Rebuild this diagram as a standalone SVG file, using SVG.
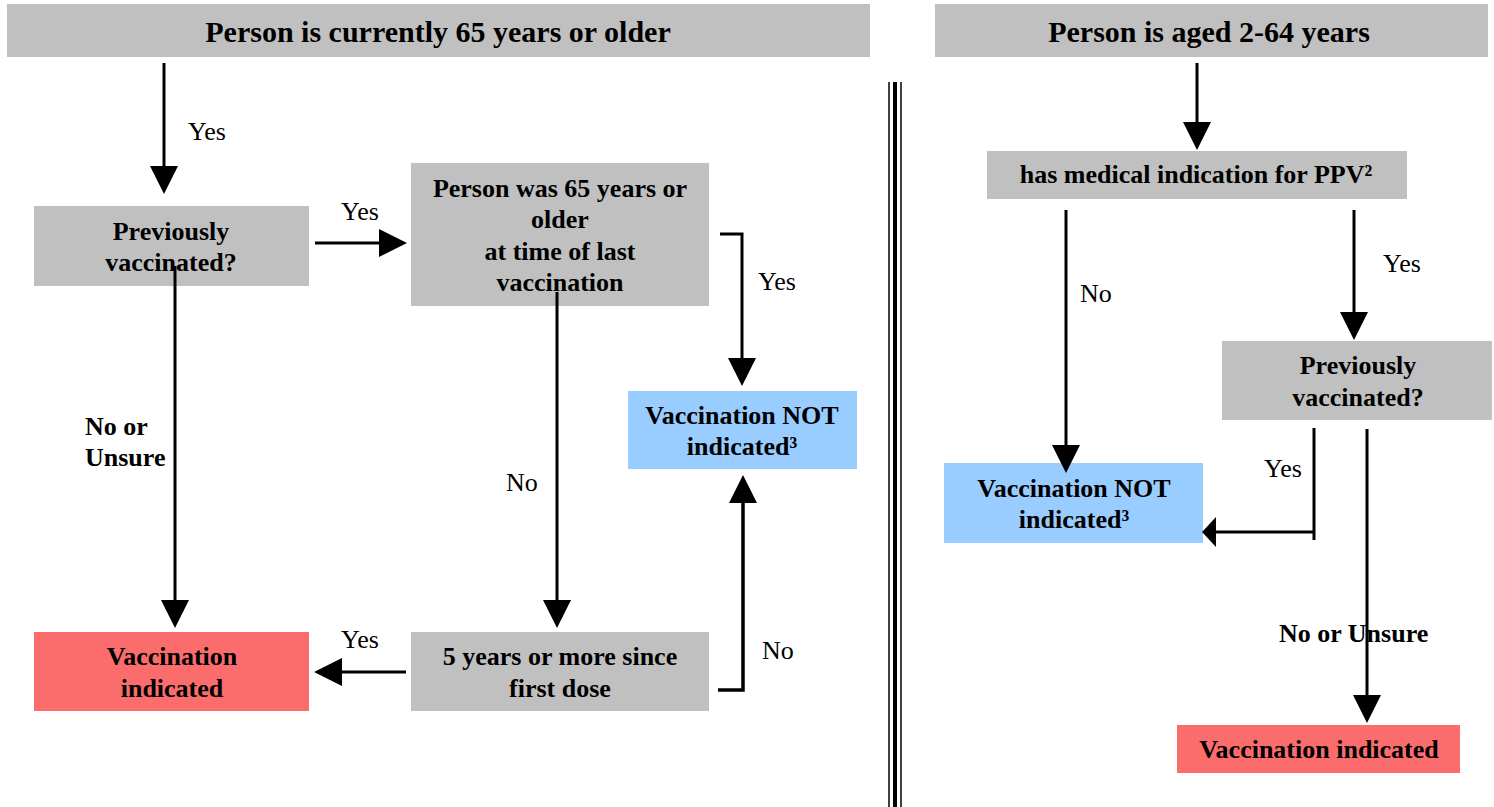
<svg xmlns="http://www.w3.org/2000/svg" width="1494" height="807" viewBox="0 0 1494 807">
<style>
text{font-family:"Liberation Serif","Times New Roman",serif;fill:#000}
.hd{font-size:30px;font-weight:bold;text-anchor:middle}
.bx{font-size:26px;font-weight:bold;text-anchor:middle}
.lb{font-size:26px}
.lbb{font-size:26px;font-weight:bold}
.gray{fill:#c0c0c0}
.blue{fill:#99ccff}
.red{fill:#fb6c6c}
.ln{stroke:#000;stroke-width:3;fill:none}
</style>
<defs>
<marker id="arr" markerUnits="userSpaceOnUse" markerWidth="28" markerHeight="28" viewBox="0 0 28 28" refX="24" refY="14" orient="auto">
<path d="M0,0 L28,14 L0,28 z" fill="#000"/>
</marker>
</defs>

<g id="header-left"><rect class="gray" x="7" y="4" width="863" height="53"/><text class="hd" x="438" y="42">Person is currently 65 years or older</text></g>
<g id="header-right"><rect class="gray" x="935" y="4" width="553" height="53"/><text class="hd" x="1209" y="42">Person is aged 2-64 years</text></g>

<g id="divider">
<line x1="889" y1="82" x2="889" y2="807" stroke="#000" stroke-width="1.5"/>
<line x1="895" y1="82" x2="895" y2="807" stroke="#000" stroke-width="4"/>
<line x1="901" y1="82" x2="901" y2="807" stroke="#000" stroke-width="1.5"/>
</g>

<g id="prev-left"><rect class="gray" x="34" y="206" width="275" height="80"/><text class="bx" x="171" y="240">Previously</text><text class="bx" x="171" y="271">vaccinated?</text></g>
<g id="was65"><rect class="gray" x="411" y="163" width="298" height="143"/><text class="bx" x="560" y="197">Person was 65 years or</text><text class="bx" x="560" y="228">older</text><text class="bx" x="560" y="260">at time of last</text><text class="bx" x="560" y="291">vaccination</text></g>
<g id="notind-left"><rect class="blue" x="628" y="391" width="229" height="78"/><text class="bx" x="742" y="424">Vaccination NOT</text><text class="bx" x="742" y="455">indicated³</text></g>
<g id="ind-left"><rect class="red" x="34" y="632" width="275" height="79"/><text class="bx" x="172" y="665">Vaccination</text><text class="bx" x="172" y="697">indicated</text></g>
<g id="fiveyears"><rect class="gray" x="411" y="632" width="298" height="79"/><text class="bx" x="560" y="665">5 years or more since</text><text class="bx" x="560" y="697">first dose</text></g>

<g id="ppv"><rect class="gray" x="987" y="151" width="420" height="48"/><text class="bx" x="1196" y="183">has medical indication for PPV²</text></g>
<g id="prev-right"><rect class="gray" x="1222" y="341" width="270" height="79"/><text class="bx" x="1358" y="374">Previously</text><text class="bx" x="1358" y="406">vaccinated?</text></g>
<g id="notind-right"><rect class="blue" x="944" y="463" width="259" height="80"/><text class="bx" x="1074" y="497">Vaccination NOT</text><text class="bx" x="1074" y="528">indicated³</text></g>
<g id="ind-right"><rect class="red" x="1177" y="725" width="283" height="48"/><text class="bx" x="1319" y="758">Vaccination indicated</text></g>

<g id="labels">
<text class="lb" x="188" y="140">Yes</text>
<text class="lb" x="341" y="220">Yes</text>
<text class="lb" x="758" y="290">Yes</text>
<text class="lbb" x="85" y="435">No or</text>
<text class="lbb" x="85" y="466">Unsure</text>
<text class="lb" x="506" y="491">No</text>
<text class="lb" x="341" y="648">Yes</text>
<text class="lb" x="762" y="659">No</text>
<text class="lb" x="1080" y="302">No</text>
<text class="lb" x="1383" y="272">Yes</text>
<text class="lb" x="1264" y="477">Yes</text>
<text class="lbb" x="1279" y="642">No or Unsure</text>
</g>

<g id="connectors">
<line class="ln" x1="164" y1="63" x2="164" y2="190" marker-end="url(#arr)"/>
<line class="ln" x1="315" y1="243" x2="403" y2="243" marker-end="url(#arr)"/>
<polyline class="ln" points="720,234 742,234 742,382" marker-end="url(#arr)"/>
<line class="ln" x1="175" y1="266" x2="175" y2="624" marker-end="url(#arr)"/>
<line class="ln" x1="557" y1="292" x2="557" y2="624" marker-end="url(#arr)"/>
<line class="ln" x1="406" y1="672" x2="318" y2="672" marker-end="url(#arr)"/>
<polyline class="ln" points="718,690 743,690 743,479" marker-end="url(#arr)" style="stroke-width:3.5"/>
<line class="ln" x1="1197" y1="63" x2="1197" y2="146" marker-end="url(#arr)"/>
<line class="ln" x1="1066" y1="210" x2="1066" y2="469" marker-end="url(#arr)"/>
<line class="ln" x1="1354" y1="210" x2="1354" y2="336" marker-end="url(#arr)"/>
<line class="ln" x1="1367" y1="429" x2="1367" y2="719" marker-end="url(#arr)"/>
<line class="ln" x1="1314" y1="428" x2="1314" y2="540"/>
<line class="ln" x1="1314" y1="532" x2="1212" y2="532"/>
<polygon points="1202,532 1216,517 1216,547" fill="#000"/>
</g>
</svg>
